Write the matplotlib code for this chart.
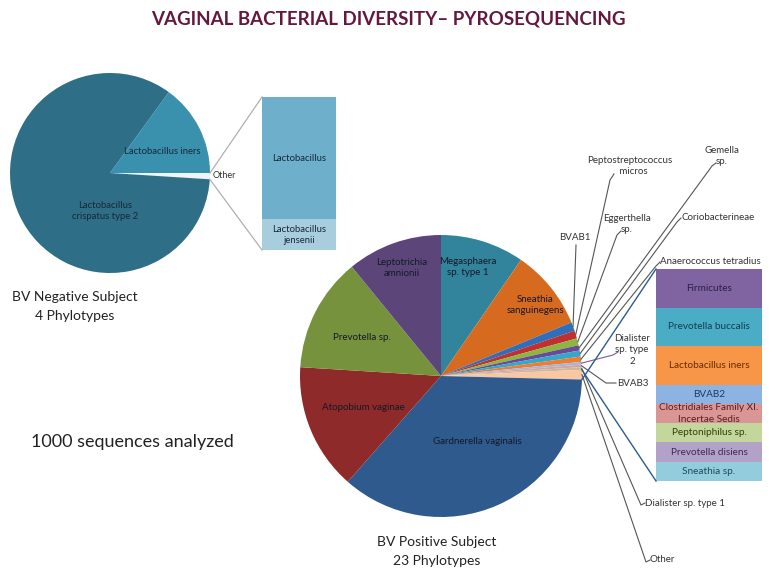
import matplotlib
matplotlib.use('Agg')
import matplotlib.pyplot as plt
import numpy as np

W, H = 775, 587
plt.rcParams['font.family'] = ['Lato', 'DejaVu Sans']

# ---------------- data ----------------
neg_labels = ['Lactobacillus crispatus type 2', 'Lactobacillus iners', 'Other']
neg_values = [840, 150]
neg_bar_labels = ['Lactobacillus', 'Lactobacillus\njensenii']
neg_bar_values = [8, 2]

pos_labels = ['Megasphaera sp. type 1', 'Sneathia sanguinegens', 'BVAB1',
              'Peptostreptococcus micros', 'Eggerthella sp.', 'Gemella sp.',
              'Coriobacterineae', 'Anaerococcus tetradius', 'Dialister sp. type 2',
              'BVAB3', 'Dialister sp. type 1', 'Other', 'Gardnerella vaginalis',
              'Atopobium vaginae', 'Prevotella sp.', 'Leptotrichia amnionii']
pos_values_no_other = [96, 92, 10, 9, 8, 6, 7, 6, 3, 3, 3, 361, 145, 131, 109]
pos_bar_labels = ['Firmicutes', 'Prevotella buccalis', 'Lactobacillus iners', 'BVAB2',
                  'Clostridiales Family XI.\nIncertae Sedis', 'Peptoniphilus sp.',
                  'Prevotella disiens', 'Sneathia sp.']
pos_bar_values = [2, 2, 2, 1, 1, 1, 1, 1]

# ---------------- styles ----------------
neg_colors = ['#2E6F87', '#3A91AD', '#EEF5F8']
neg_bar_colors = ['#6EAFCB', '#A8CEDE']
pos_colors = ['#31849B', '#D66A1E', '#2F6EBA', '#C0302F', '#8DB640', '#6A4A96',
              '#36A7C9', '#F07C2E', '#9FB7DB', '#D9A3A0', '#C9B99A', '#F9C7A4',
              '#2F5A8E', '#8E2A2A', '#76923C', '#5C4679']
pos_bar_colors = ['#8064A2', '#4BACC6', '#F79646', '#8DB3E2', '#D99694',
                  '#C3D69B', '#B3A2C7', '#93CDDD']
pos_bar_text = ['#2B1F44', '#123F4E', '#6B2A00', '#1F3A66', '#5A1E1E',
                '#2F3F10', '#3B2A5A', '#1F4A5A']

def Y(y):
    return H - y

fig = plt.figure(figsize=(W / 100, H / 100), dpi=100)
ax = fig.add_axes([0, 0, 1, 1])

# ---------------- left pie (BV negative) ----------------
neg_other = sum(neg_bar_values)
neg_all = neg_values + [neg_other]
neg_order = [neg_all[2], neg_all[1], neg_all[0]]
neg_cols = [neg_colors[2], neg_colors[1], neg_colors[0]]
lc = (110, Y(173)); lr = 100
start = -360.0 * neg_other / sum(neg_all)
wl, _ = ax.pie(neg_order, colors=neg_cols, startangle=start, counterclock=True,
               center=lc, radius=lr, wedgeprops=dict(linewidth=0))

# left bar
lb_x0, lb_x1, lb_top, lb_bot = 262, 336, Y(97), Y(250)
scale = (lb_top - lb_bot) / sum(neg_bar_values)
top = lb_top
for lab, v, c in zip(neg_bar_labels, neg_bar_values, neg_bar_colors):
    h = v * scale
    ax.bar((lb_x0 + lb_x1) / 2, h, width=lb_x1 - lb_x0, bottom=top - h, color=c,
           linewidth=0)
    ax.text((lb_x0 + lb_x1) / 2, top - h / 2, lab, ha='center', va='center',
            fontsize=6.8, color='#16283A', linespacing=1.3)
    top -= h

# connectors left
ow = wl[0]
for ang, yy in [(ow.theta2, lb_top), (ow.theta1, lb_bot)]:
    p = (lc[0] + lr * np.cos(np.radians(ang)), lc[1] + lr * np.sin(np.radians(ang)))
    ax.plot([p[0], lb_x0], [p[1], yy], color='#B0B0B0', lw=0.9)

ax.text(162, Y(152), 'Lactobacillus iners', ha='center', va='center', fontsize=6.8,
        color='#16283A')
ax.text(105, Y(211), 'Lactobacillus\ncrispatus type 2', ha='center', va='center',
        fontsize=6.8, color='#16283A', linespacing=1.3)
ax.text(213, Y(175), 'Other', ha='left', va='center', fontsize=6.5, color='#333333')

ax.text(75, Y(297), 'BV Negative Subject', ha='center', va='center', fontsize=10,
        color='#222222')
ax.text(75, Y(316), '4 Phylotypes', ha='center', va='center', fontsize=10,
        color='#222222')
ax.text(132, Y(442), '1000 sequences analyzed', ha='center', va='center',
        fontsize=13, color='#222222')

# ---------------- right pie (BV positive) ----------------
pos_other = sum(pos_bar_values)
pos_values = pos_values_no_other[:11] + [pos_other] + pos_values_no_other[11:]
rc = (441, Y(376)); rr = 141
wr, _ = ax.pie(pos_values, colors=pos_colors, startangle=90, counterclock=False,
               center=rc, radius=rr, wedgeprops=dict(linewidth=0))

def edge(w, frac=0.5):
    a = np.radians(w.theta1 + (w.theta2 - w.theta1) * frac)
    return (rc[0] + rr * np.cos(a), rc[1] + rr * np.sin(a))

inside = {
    'Megasphaera sp. type 1': ('Megasphaera\nsp. type 1', 468, 267),
    'Sneathia sanguinegens': ('Sneathia\nsanguinegens', 535, 305),
    'Leptotrichia amnionii': ('Leptotrichia\namnionii', 402, 268),
    'Prevotella sp.': ('Prevotella sp.', 362, 337),
    'Atopobium vaginae': ('Atopobium vaginae', 363, 407),
    'Gardnerella vaginalis': ('Gardnerella vaginalis', 477, 442),
}
for k, (t, x, y) in inside.items():
    ax.text(x, Y(y), t, ha='center', va='center', fontsize=7, color='#15182A',
            linespacing=1.3)

# outside labels: (text, text x, text y, ha, elbow, end)
outside = {
    'BVAB1': ('BVAB1', 575, 237, 'center', (576, 245), None),
    'Peptostreptococcus micros': ('Peptostreptococcus\n   micros', 630, 166, 'center', (610, 180), (614, 174)),
    'Eggerthella sp.': ('Eggerthella\nsp.', 627, 224, 'center', (617, 235), (621, 231)),
    'Gemella sp.': ('Gemella\nsp.', 722, 156, 'center', (712, 166), (716, 163)),
    'Coriobacterineae': ('Coriobacterineae', 681, 217, 'left', (677, 222), (681, 218)),
    'Anaerococcus tetradius': ('Anaerococcus tetradius', 660, 261, 'left', (656, 266), (660, 262)),
    'Dialister sp. type 2': ('Dialister\nsp. type\n2', 632, 350, 'center', (613, 355), (618, 352)),
    'BVAB3': ('BVAB3', 617, 383, 'left', (606, 383), (616, 383)),
    'Dialister sp. type 1': ('Dialister sp. type 1', 645, 503, 'left', (641, 505), (645, 503)),
    'Other': ('Other', 650, 560, 'left', (646, 562), (650, 560)),
}
for w, lab in zip(wr, pos_labels):
    if lab not in outside:
        continue
    t, tx, ty, ha, elb, end = outside[lab]
    p = edge(w)
    xs = [p[0], elb[0]]
    ys = [p[1], Y(elb[1])]
    if end is not None:
        xs.append(end[0]); ys.append(Y(end[1]))
    col = '#7A5A9A' if lab == 'Dialister sp. type 2' else '#555555'
    ax.plot(xs, ys, color=col, lw=0.8)
    ax.text(tx, Y(ty), t, ha=ha, va='center', fontsize=7, color='#333333',
            linespacing=1.3)

# right bar
rb_x0, rb_x1, rb_top, rb_bot = 656, 762, Y(269), Y(481)
scale = (rb_top - rb_bot) / sum(pos_bar_values)
top = rb_top
for lab, v, c, tc in zip(pos_bar_labels, pos_bar_values, pos_bar_colors, pos_bar_text):
    h = v * scale
    ax.bar((rb_x0 + rb_x1) / 2, h, width=rb_x1 - rb_x0, bottom=top - h, color=c,
           linewidth=0)
    ax.text((rb_x0 + rb_x1) / 2, top - h / 2, lab, ha='center', va='center',
            fontsize=7.2, color=tc, linespacing=1.3)
    top -= h

# connectors right (from the "Other" slice)
wo = wr[pos_labels.index('Other')]
for frac, yy in [(0.0, rb_top), (1.0, rb_bot)]:
    p = edge(wo, frac)
    ax.plot([p[0], rb_x0], [p[1], yy], color='#2E5C8A', lw=1.0)

ax.text(437, Y(542), 'BV Positive Subject', ha='center', va='center', fontsize=10,
        color='#222222')
ax.text(437, Y(561), '23 Phylotypes', ha='center', va='center', fontsize=10,
        color='#222222')

# title
ax.text(388, Y(19), 'VAGINAL BACTERIAL DIVERSITY\u2013 PYROSEQUENCING', ha='center',
        va='center', fontsize=13.5, fontweight='bold', color='#65183F')

ax.set_xlim(0, W)
ax.set_ylim(0, H)
ax.set_aspect('equal')
ax.axis('off')
fig.savefig('out.png', dpi=100)
